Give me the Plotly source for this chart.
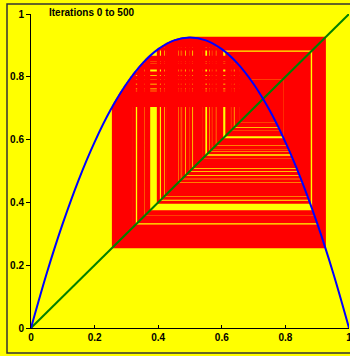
import plotly.graph_objects as go

# Logistic map parameters (peak 0.925 -> r = 3.7)
r_param = 3.7
x_start = 0.5
n_iter = 500

# Parabola points
curve_x = [0, 0.05, 0.1, 0.15, 0.2, 0.25, 0.3, 0.35, 0.4, 0.45, 0.5,
           0.55, 0.6, 0.65, 0.7, 0.75, 0.8, 0.85, 0.9, 0.95, 1]
curve_y = [0, 0.176, 0.333, 0.472, 0.592, 0.694, 0.777, 0.842, 0.888, 0.916, 0.925,
           0.916, 0.888, 0.842, 0.777, 0.694, 0.592, 0.472, 0.333, 0.176, 0]
diag_x = [0, 1]
diag_y = [0, 1]
tick_vals = [0, 0.2, 0.4, 0.6, 0.8, 1]
tick_text = ["0", "0.2", "0.4", "0.6", "0.8", "1"]
title_text = "Iterations 0 to 500"

# cobweb path
web_x, web_y = [], []
x = x_start
web_x.append(x); web_y.append(x)
for _ in range(n_iter):
    nx = r_param * x * (1 - x)
    web_x += [x, nx]
    web_y += [nx, nx]
    x = nx

fig = go.Figure()
fig.add_trace(go.Scatter(x=web_x, y=web_y, mode="lines",
                         line=dict(color="#FF0000", width=1.5), hoverinfo="skip"))
fig.add_trace(go.Scatter(x=diag_x, y=diag_y, mode="lines",
                         line=dict(color="#008000", width=2)))
fig.add_trace(go.Scatter(x=curve_x, y=curve_y, mode="lines", line_shape="spline",
                         line=dict(color="#0000FF", width=2)))

font_bold = dict(family="Liberation Sans, Arial", size=10, color="black")
fig.update_layout(
    width=362, height=356,
    margin=dict(l=31, r=13, t=14, b=28),
    paper_bgcolor="#FFFF00", plot_bgcolor="#FFFF00",
    showlegend=False,
    font=font_bold,
    xaxis=dict(range=[0, 1], tickvals=tick_vals, ticktext=["<b>%s</b>" % t for t in tick_text],
               showgrid=False, zeroline=False, showline=True, linecolor="black", linewidth=1,
               ticks="inside", ticklen=3, tickcolor="black", tickfont=font_bold,
               automargin=False),
    yaxis=dict(range=[0, 1], tickvals=tick_vals, ticktext=["<b>%s</b>" % t for t in tick_text],
               showgrid=False, zeroline=False, showline=True, linecolor="black", linewidth=1,
               ticks="outside", ticklen=4, tickcolor="black", tickfont=font_bold,
               automargin=False),
    shapes=[dict(type="rect", xref="paper", yref="paper",
                 x0=-24/318, x1=1.025, y0=-25/314, y1=1 + 10/314,
                 line=dict(color="#333333", width=1.5), fillcolor="rgba(0,0,0,0)", layer="below")],
    annotations=[dict(text="<b>%s</b>" % title_text, xref="paper", yref="paper",
                      x=16/318, y=1 + 1/314, xanchor="left", yanchor="middle",
                      showarrow=False, font=font_bold)],
)
fig.write_html("out.html", config={"displayModeBar": False},
               post_script="document.body.style.margin='0';document.body.style.overflow='hidden';"
                           "document.documentElement.style.overflow='hidden';")
